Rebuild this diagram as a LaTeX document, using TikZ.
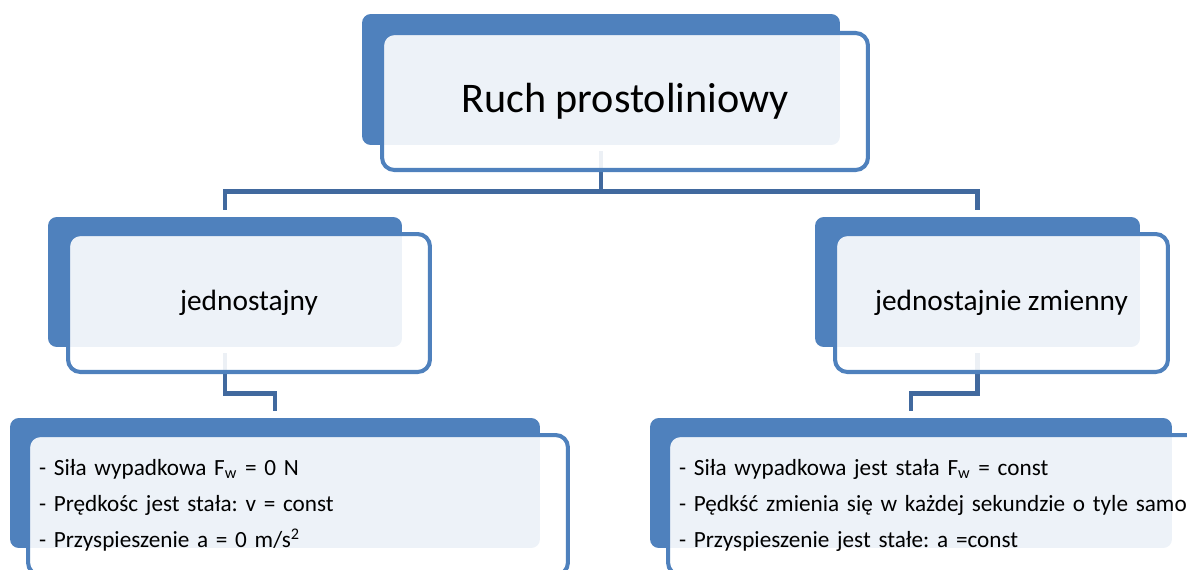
\documentclass[tikz,border=0pt]{standalone}
\usepackage{fontspec}
\setmainfont{Carlito}
\usepackage{tikz}
\usetikzlibrary{calc}
\definecolor{box-blue}{HTML}{4F81BD}
\definecolor{line-blue}{HTML}{41699E}
\frenchspacing

\begin{document}
\begin{tikzpicture}[x=0.02cm, y=-0.02cm,
    back/.style={rectangle, rounded corners=5pt, fill=box-blue, inner sep=0pt},
    front/.style={rectangle, rounded corners=7pt, draw=box-blue, line width=2.3pt,
                  fill=white, fill opacity=0.9, text opacity=1, inner sep=0pt},
    list/.style={front, align=left, inner xsep=0.22cm,
                 font=\fontsize{13.2}{20.5}\selectfont},
    conn/.style={line-blue, line width=2.8pt}]
  \useasboundingbox (0,0) rectangle (1187,569);
  \clip (0,0) rectangle (1187,569);
  % tylne prostokaty
  \node[back, minimum width=9.56cm, minimum height=2.62cm] (rootbg) at (601,79.5) {};
  \node[back, minimum width=7.08cm, minimum height=2.6cm] (jednbg) at (225,282) {};
  \node[back, minimum width=6.5cm, minimum height=2.6cm] (zmienbg) at (977.5,282) {};
  \node[back, minimum width=10.6cm, minimum height=2.6cm] (jedncechbg) at (275,483) {};
  \node[back, minimum width=10.44cm, minimum height=2.6cm] (zmiencechbg) at (911,483) {};
  % laczniki
  \draw[conn] ($(rootbg.south)+(0,6)$) -- ++(0,40) -| ($(jednbg.north)+(0,-7)$);
  \draw[conn] ($(rootbg.south)+(0,6)$) -- ++(0,40) -| ($(zmienbg.north)+(0,-7)$);
  \draw[conn] ($(jednbg.south)+(0,6)$) -- ++(0,40) -| ($(jedncechbg.north)+(0,-7)$);
  \draw[conn] ($(zmienbg.south)+(0,6)$) -- ++(0,40) -| ($(zmiencechbg.north)+(0,-7)$);
  % przednie prostokaty z tekstem
  \node[front, minimum width=9.72cm, minimum height=2.74cm,
        font=\fontsize{24}{28}\selectfont] (root) at (625,101.5) {Ruch prostoliniowy};
  \node[front, minimum width=7.24cm, minimum height=2.76cm,
        font=\fontsize{16.7}{20}\selectfont] (jedn) at (249,303) {jednostajny};
  \node[front, minimum width=6.66cm, minimum height=2.76cm,
        font=\fontsize{16.7}{20}\selectfont] (zmien) at (1001.5,303) {jednostajnie zmienny};
  \node[list, minimum width=10.8cm, minimum height=2.8cm, text width=10.36cm]
        (jednciech) at (298,505)
        {- Siła wypadkowa F\textsubscript{w} = 0 N\\
         - Prędkośc jest stała: v = const\\
         - Przyspieszenie a = 0 m/s\textsuperscript{2}};
  \node[list, minimum width=11.2cm, minimum height=2.8cm, text width=10.76cm]
        (zmienciech) at (948,505)
        {- Siła wypadkowa jest stała F\textsubscript{w} = const\\
         - Pędkść zmienia się w każdej sekundzie o tyle samo\\
         - Przyspieszenie jest stałe: a =const};
\end{tikzpicture}
\end{document}
